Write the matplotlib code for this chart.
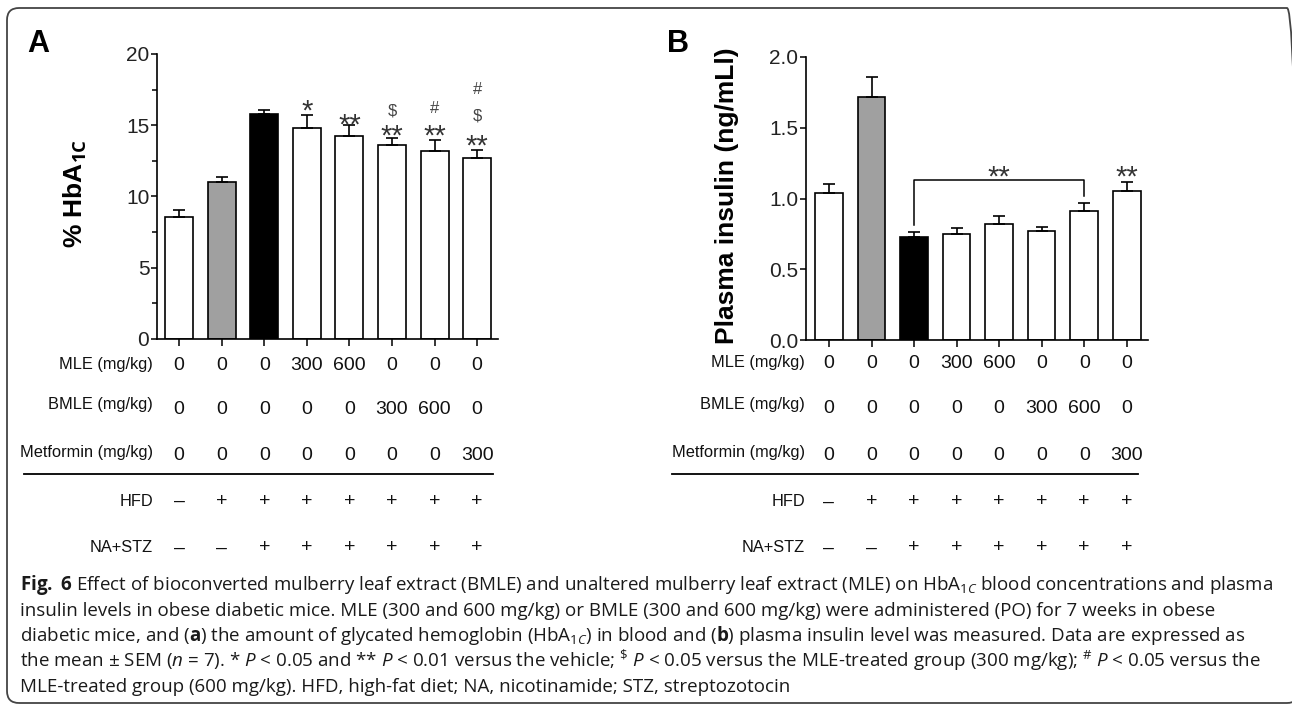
import matplotlib
matplotlib.use("Agg")
import numpy as np
import matplotlib.pyplot as plt
import matplotlib.transforms as mtransforms
from matplotlib.patches import FancyBboxPatch
from matplotlib.lines import Line2D

plt.rcParams['font.family'] = ['Liberation Sans', 'DejaVu Sans']
plt.rcParams['mathtext.fontset'] = 'custom'
plt.rcParams['mathtext.rm'] = 'Open Sans'
plt.rcParams['mathtext.it'] = 'Open Sans:italic'
plt.rcParams['mathtext.bf'] = 'Open Sans:bold'

TICK_FS, LABEL_FS, VAL_FS = 15, 11.8, 14

# data
mle = [0, 0, 0, 300, 600, 0, 0, 0]
bmle = [0, 0, 0, 0, 0, 300, 600, 0]
metformin = [0, 0, 0, 0, 0, 0, 0, 300]
hfd = ['–', '+', '+', '+', '+', '+', '+', '+']
nastz = ['–', '–', '+', '+', '+', '+', '+', '+']

hba1c = [8.58, 11.02, 15.77, 14.80, 14.22, 13.64, 13.19, 12.72]
hba1c_sem = [0.47, 0.35, 0.32, 0.92, 0.78, 0.49, 0.80, 0.56]
# significance marks per bar, listed bottom to top
hba1c_marks = [[], [], [], ['*'], ['**'], ['**', '$'], ['**', '#'], ['**', '$', '#']]

insulin = [1.04, 1.72, 0.73, 0.75, 0.82, 0.77, 0.91, 1.05]
insulin_sem = [0.06, 0.14, 0.03, 0.04, 0.055, 0.03, 0.057, 0.07]

bar_colors = ['white', '#a0a0a0', 'black', 'white', 'white', 'white', 'white', 'white']

W, H = 1292, 706
fig = plt.figure(figsize=(W / 100, H / 100), dpi=100)
fig.patch.set_facecolor('white')

def fy(py):
    return 1 - py / H

def setup(ax, ymax, major, minor, fmt):
    for s in ['top', 'right']:
        ax.spines[s].set_visible(False)
    for s in ['left', 'bottom']:
        ax.spines[s].set_linewidth(1.2)
    ax.set_ylim(0, ymax)
    ticks = np.arange(0, ymax + 1e-9, major)
    ax.set_yticks(ticks)
    ax.set_yticklabels([fmt % v for v in ticks])
    if minor:
        ax.set_yticks(np.arange(minor, ymax, major), minor=True)
    ax.set_xticks(range(8))
    ax.set_xticklabels([])
    ax.tick_params(axis='y', which='major', length=4.5, width=1.1, labelsize=TICK_FS,
                   pad=1, labelcolor='#222222')
    ax.tick_params(axis='y', which='minor', length=3.5, width=1.1)
    ax.tick_params(axis='x', length=5, width=1.1)

def draw_bars(ax, vals, sem, width):
    x = np.arange(len(vals))
    ax.bar(x, vals, width=width, color=bar_colors, edgecolor='black', linewidth=1.2, zorder=2)
    ax.errorbar(x, vals, yerr=[np.zeros(len(vals)), sem], fmt='none', ecolor='black',
                elinewidth=1.2, capsize=4.5, capthick=1.2, zorder=3)

def mark(ax, x, y, s, size, k, color='#333333'):
    ax.annotate(s, (x, y), xytext=(0, -k * size), textcoords='offset points',
                ha='center', va='baseline', fontsize=size, color=color,
                annotation_clip=False, parse_math=False)

def table(ax, label_x, rows):
    tr = mtransforms.blended_transform_factory(ax.transData, fig.transFigure)
    for label, vals, ly, vy in rows:
        fig.text(label_x / W, fy(ly), label, ha='right', va='center', fontsize=LABEL_FS,
                 color='#111111')
        for i, v in enumerate(vals):
            ax.text(i, fy(vy), str(v), transform=tr, ha='center', va='center',
                    fontsize=VAL_FS, color='#111111')

# ---- panel A
axA = fig.add_axes([157 / W, fy(339), (498 - 157) / W, (339 - 54) / H])
setup(axA, 20, 5, 2.5, '%d')
axA.set_xlim(-0.52, 7.49)
draw_bars(axA, hba1c, hba1c_sem, 0.66)
mark_y = {
    3: [16.56], 4: [15.58], 5: [14.81, 16.14], 6: [14.81, 16.28], 7: [14.1, 15.72, 17.61],
}
for i, ms in enumerate(hba1c_marks):
    for m, y in zip(ms, mark_y.get(i, [])):
        if '*' in m:
            mark(axA, i, y, m, 21, 0.58)
        else:
            mark(axA, i, y, m, 12, 0.36, '#444444')

table(axA, 153, [('MLE (mg/kg)', mle, 365, 365),
                 ('BMLE (mg/kg)', bmle, 405, 410),
                 ('Metformin (mg/kg)', metformin, 453, 456),
                 ('HFD', hfd, 501, 501),
                 ('NA+STZ', nastz, 548, 548)])
fig.add_artist(Line2D([24 / W, 493 / W], [fy(474), fy(474)], color='black', lw=1.3))

fig.text(75 / W, fy(194), r'% HbA$_{\mathbf{1C}}$', rotation=90, ha='center', va='center',
         fontsize=19, fontweight='bold')
fig.text(27 / W, fy(52), 'A', fontsize=22, fontweight='bold', va='baseline')

# ---- panel B
axB = fig.add_axes([806 / W, fy(340), (1148 - 806) / W, (340 - 57) / H])
setup(axB, 2.0, 0.5, None, '%.1f')
axB.set_xlim(-0.54, 7.5)
draw_bars(axB, insulin, insulin_sem, 0.65)
# bracket between vehicle and BMLE 600
axB.plot([2, 2, 6, 6], [0.81, 1.13, 1.13, 1.02], color='black', lw=1.1, zorder=3)
mark(axB, 4, 1.21, '**', 21, 0.58)
mark(axB, 7, 1.21, '**', 21, 0.58)

table(axB, 805, [('MLE (mg/kg)', mle, 363, 363),
                 ('BMLE (mg/kg)', bmle, 405, 409),
                 ('Metformin (mg/kg)', metformin, 453, 456),
                 ('HFD', hfd, 502, 502),
                 ('NA+STZ', nastz, 548, 548)])
fig.add_artist(Line2D([672 / W, 1138 / W], [fy(474), fy(474)], color='black', lw=1.3))

fig.text(727 / W, fy(196), 'Plasma insulin (ng/mLl)', rotation=90, ha='center', va='center',
         fontsize=19, fontweight='bold')
fig.text(667 / W, fy(52), 'B', fontsize=22, fontweight='bold', va='baseline')

# ---- caption
caption = [
    r'$\mathbf{Fig.\ 6}$ Effect of bioconverted mulberry leaf extract (BMLE) and unaltered mulberry leaf extract (MLE) on HbA$_{1C}$ blood concentrations and plasma',
    'insulin levels in obese diabetic mice. MLE (300 and 600 mg/kg) or BMLE (300 and 600 mg/kg) were administered (PO) for 7 weeks in obese',
    r'diabetic mice, and ($\mathbf{a}$) the amount of glycated hemoglobin (HbA$_{1C}$) in blood and ($\mathbf{b}$) plasma insulin level was measured. Data are expressed as',
    r'the mean ± SEM ($n$ = 7). * $P$ < 0.05 and ** $P$ < 0.01 versus the vehicle; $^{\$}$ $P$ < 0.05 versus the MLE-treated group (300 mg/kg); $^{\#}$ $P$ < 0.05 versus the',
    'MLE-treated group (600 mg/kg). HFD, high-fat diet; NA, nicotinamide; STZ, streptozotocin',
]
cap_texts = []
for j, line in enumerate(caption):
    t = fig.text(20 / W, fy(590 + 25.5 * j), line, ha='left', va='baseline', fontsize=13,
                 color='#1a1a1a', family=['Open Sans', 'DejaVu Sans'])
    cap_texts.append(t)

fig.canvas.draw()
r = fig.canvas.get_renderer()
w0 = cap_texts[0].get_window_extent(r).width
size = 13 * (1248 / w0)
for t in cap_texts:
    t.set_fontsize(size)

# rounded frame
frame = FancyBboxPatch((7, 3), 1292, 695, boxstyle='round,pad=0,rounding_size=12',
                       transform=mtransforms.IdentityTransform(), facecolor='none',
                       edgecolor='#444444', lw=1.3)
fig.add_artist(frame)

fig.savefig('out.png', dpi=100)
